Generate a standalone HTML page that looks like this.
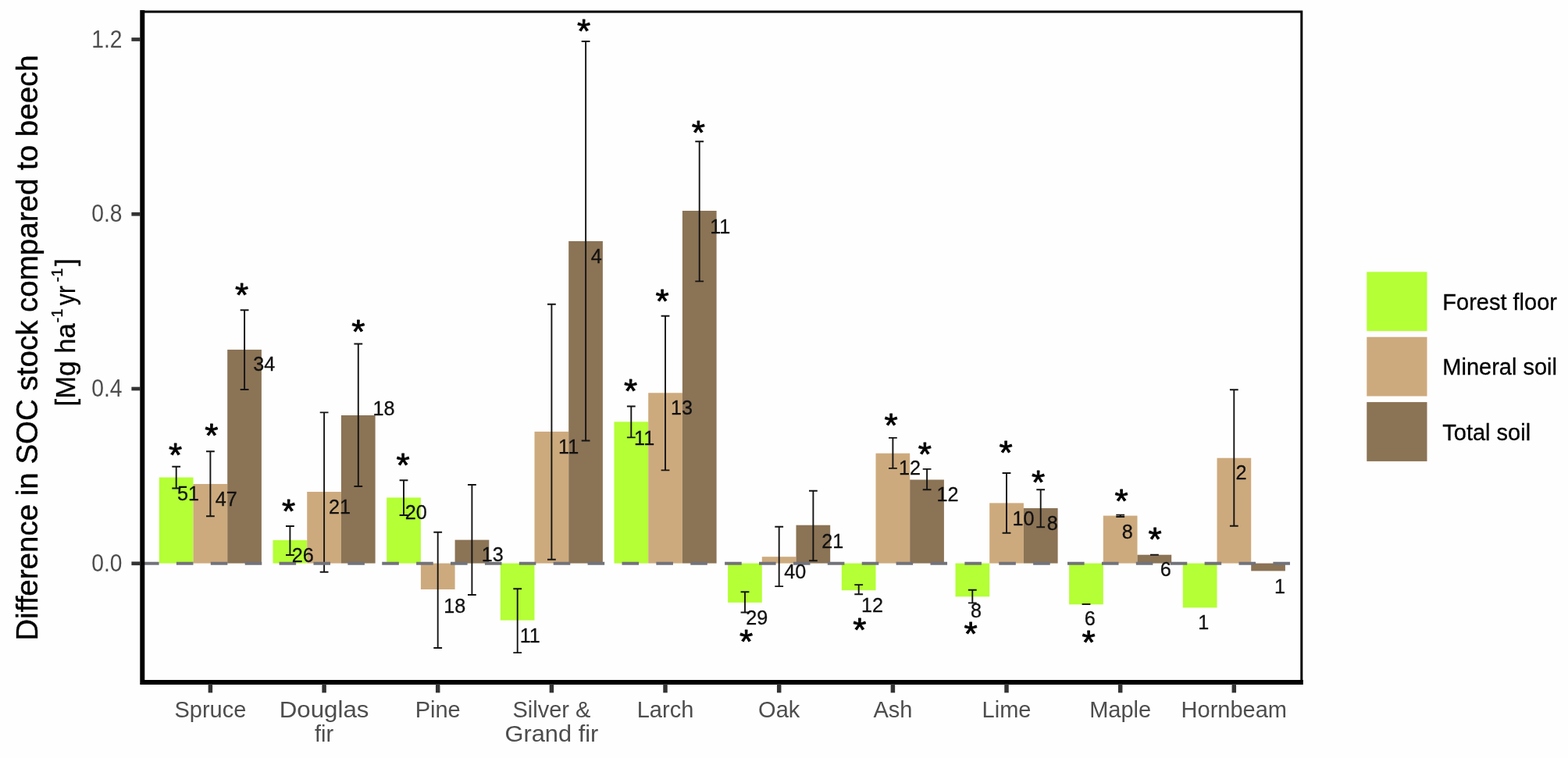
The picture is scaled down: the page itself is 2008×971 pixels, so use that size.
<!DOCTYPE html>
<html lang="en"><head><meta charset="utf-8"><title>Difference in SOC stock compared to beech</title>
<style>
html,body{margin:0;padding:0;background:#fff;}
body{width:2008px;height:971px;overflow:hidden;}
svg{display:block;font-family:"Liberation Sans",Arial,Helvetica,sans-serif;}
.bar{shape-rendering:auto;}
.eb{stroke:#141414;stroke-width:1.9;fill:none;}
.lab{font-size:25.6px;fill:#111;stroke:#111;stroke-width:0.3;}
.star{font-size:42.5px;fill:#000;stroke:#000;stroke-width:0.8;stroke-linejoin:round;text-anchor:middle;}
.xt{font-size:29px;fill:#4d4d4d;text-anchor:middle;}
.yt{font-size:30.6px;fill:#4d4d4d;text-anchor:end;}
.leg{font-size:29px;fill:#000;stroke:#000;stroke-width:0.3;}
.tick{stroke:#333;stroke-width:5.5;}
</style></head><body>
<svg width="2008" height="971" viewBox="0 0 2008 971">
<rect x="0" y="0" width="2008" height="971" fill="#fefefe"/>
<g class="bars">
<rect class="bar" x="203.8" y="611.5" width="43.7" height="110.1" fill="#B4FF35"/>
<rect class="bar" x="247.5" y="620.0" width="43.7" height="101.6" fill="#CDAA7D"/>
<rect class="bar" x="291.2" y="447.9" width="43.7" height="273.7" fill="#8B7355"/>
<rect class="bar" x="349.5" y="692.0" width="43.7" height="29.6" fill="#B4FF35"/>
<rect class="bar" x="393.2" y="630.0" width="43.7" height="91.6" fill="#CDAA7D"/>
<rect class="bar" x="436.9" y="532.0" width="43.7" height="189.6" fill="#8B7355"/>
<rect class="bar" x="495.2" y="637.4" width="43.7" height="84.2" fill="#B4FF35"/>
<rect class="bar" x="538.9" y="721.6" width="43.7" height="33.4" fill="#CDAA7D"/>
<rect class="bar" x="582.6" y="691.6" width="43.7" height="30.0" fill="#8B7355"/>
<rect class="bar" x="640.8" y="721.6" width="43.7" height="73.0" fill="#B4FF35"/>
<rect class="bar" x="684.5" y="552.9" width="43.7" height="168.7" fill="#CDAA7D"/>
<rect class="bar" x="728.2" y="308.9" width="43.7" height="412.7" fill="#8B7355"/>
<rect class="bar" x="786.5" y="540.3" width="43.7" height="181.3" fill="#B4FF35"/>
<rect class="bar" x="830.2" y="503.3" width="43.7" height="218.3" fill="#CDAA7D"/>
<rect class="bar" x="873.9" y="270.0" width="43.7" height="451.6" fill="#8B7355"/>
<rect class="bar" x="932.1" y="721.6" width="43.7" height="50.3" fill="#B4FF35"/>
<rect class="bar" x="975.8" y="713.2" width="43.7" height="8.4" fill="#CDAA7D"/>
<rect class="bar" x="1019.5" y="672.7" width="43.7" height="48.9" fill="#8B7355"/>
<rect class="bar" x="1077.8" y="721.6" width="43.7" height="34.6" fill="#B4FF35"/>
<rect class="bar" x="1121.5" y="580.7" width="43.7" height="140.9" fill="#CDAA7D"/>
<rect class="bar" x="1165.2" y="614.5" width="43.7" height="107.1" fill="#8B7355"/>
<rect class="bar" x="1223.5" y="721.6" width="43.7" height="42.7" fill="#B4FF35"/>
<rect class="bar" x="1267.2" y="644.4" width="43.7" height="77.2" fill="#CDAA7D"/>
<rect class="bar" x="1310.9" y="651.0" width="43.7" height="70.6" fill="#8B7355"/>
<rect class="bar" x="1369.1" y="721.6" width="43.7" height="52.7" fill="#B4FF35"/>
<rect class="bar" x="1412.8" y="660.6" width="43.7" height="61.0" fill="#CDAA7D"/>
<rect class="bar" x="1456.5" y="710.7" width="43.7" height="10.9" fill="#8B7355"/>
<rect class="bar" x="1514.8" y="721.6" width="43.7" height="56.8" fill="#B4FF35"/>
<rect class="bar" x="1558.5" y="586.7" width="43.7" height="134.9" fill="#CDAA7D"/>
<rect class="bar" x="1602.2" y="721.6" width="43.7" height="9.8" fill="#8B7355"/>
</g>
<g class="eb">
<path d="M220.3 597.8H231.1M225.7 597.8V625.5M220.3 625.5H231.1"/>
<path d="M264.0 578.3H274.8M269.4 578.3V661.3M264.0 661.3H274.8"/>
<path d="M307.7 397.3H318.5M313.1 397.3V499.0M307.7 499.0H318.5"/>
<path d="M366.0 674.0H376.8M371.4 674.0V711.0M366.0 711.0H376.8"/>
<path d="M409.7 528.4H420.5M415.1 528.4V732.7M409.7 732.7H420.5"/>
<path d="M453.4 440.5H464.2M458.8 440.5V623.0M453.4 623.0H464.2"/>
<path d="M511.6 615.2H522.4M517.0 615.2V660.0M511.6 660.0H522.4"/>
<path d="M555.3 681.8H566.1M560.7 681.8V830.0M555.3 830.0H566.1"/>
<path d="M599.0 621.0H609.8M604.4 621.0V762.0M599.0 762.0H609.8"/>
<path d="M657.3 754.2H668.1M662.7 754.2V836.1M657.3 836.1H668.1"/>
<path d="M701.0 389.7H711.8M706.4 389.7V716.7M701.0 716.7H711.8"/>
<path d="M744.7 53.0H755.5M750.1 53.0V564.5M744.7 564.5H755.5"/>
<path d="M802.9 520.5H813.7M808.3 520.5V560.4M802.9 560.4H813.7"/>
<path d="M846.6 404.8H857.4M852.0 404.8V602.4M846.6 602.4H857.4"/>
<path d="M890.3 181.2H901.1M895.7 181.2V360.4M890.3 360.4H901.1"/>
<path d="M948.6 758.2H959.4M954.0 758.2V784.5M948.6 784.5H959.4"/>
<path d="M992.3 674.7H1003.1M997.7 674.7V751.1M992.3 751.1H1003.1"/>
<path d="M1036.0 628.7H1046.8M1041.4 628.7V718.2M1036.0 718.2H1046.8"/>
<path d="M1094.3 749.1H1105.1M1099.7 749.1V761.2M1094.3 761.2H1105.1"/>
<path d="M1138.0 560.9H1148.8M1143.4 560.9V599.9M1138.0 599.9H1148.8"/>
<path d="M1181.7 600.9H1192.5M1187.1 600.9V627.2M1181.7 627.2H1192.5"/>
<path d="M1239.9 755.7H1250.7M1245.3 755.7V772.4M1239.9 772.4H1250.7"/>
<path d="M1283.6 606.0H1294.4M1289.0 606.0V682.8M1283.6 682.8H1294.4"/>
<path d="M1327.3 627.2H1338.1M1332.7 627.2V675.2M1327.3 675.2H1338.1"/>
<path d="M1385.6 774.0H1396.4"/>
<path d="M1429.3 659.6H1440.1M1434.7 659.6V662.0M1429.3 662.0H1440.1"/>
<path d="M1473.0 710.7H1483.8"/>
<path d="M1574.9 499.2H1585.7M1580.3 499.2V673.7M1574.9 673.7H1585.7"/>
</g>
<line x1="182.0" y1="721.7" x2="1667" y2="721.7" stroke="#72727a" stroke-width="4.0" stroke-dasharray="21.6 22.29"/>
<g class="lab">
<text transform="translate(227.1 640.5) scale(0.985 1)">51</text>
<text transform="translate(275.7 647.9) scale(0.985 1)">47</text>
<text transform="translate(324.3 474.9) scale(0.985 1)">34</text>
<text transform="translate(373.8 720.2) scale(0.985 1)">26</text>
<text transform="translate(421.1 657.8) scale(0.985 1)">21</text>
<text transform="translate(477.6 532.1) scale(0.985 1)">18</text>
<text transform="translate(518.7 665.4) scale(0.985 1)">20</text>
<text transform="translate(568.2 784.8) scale(0.985 1)">18</text>
<text transform="translate(616.7 719.4) scale(0.985 1)">13</text>
<text transform="translate(665.7 823.3) scale(0.985 1)">11</text>
<text transform="translate(715.0 580.8) scale(0.985 1)">11</text>
<text transform="translate(756.7 337.0) scale(0.985 1)">4</text>
<text transform="translate(812.1 569.8) scale(0.985 1)">11</text>
<text transform="translate(859.1 530.8) scale(0.985 1)">13</text>
<text transform="translate(909.2 298.6) scale(0.985 1)">11</text>
<text transform="translate(955.2 799.5) scale(0.985 1)">29</text>
<text transform="translate(1004.2 741.3) scale(0.985 1)">40</text>
<text transform="translate(1052.2 701.8) scale(0.985 1)">21</text>
<text transform="translate(1102.9 783.8) scale(0.985 1)">12</text>
<text transform="translate(1151.0 608.3) scale(0.985 1)">12</text>
<text transform="translate(1199.5 642.2) scale(0.985 1)">12</text>
<text transform="translate(1243.0 791.4) scale(0.985 1)">8</text>
<text transform="translate(1296.6 673.0) scale(0.985 1)">10</text>
<text transform="translate(1340.7 678.6) scale(0.985 1)">8</text>
<text transform="translate(1388.7 801.0) scale(0.985 1)">6</text>
<text transform="translate(1436.8 689.8) scale(0.985 1)">8</text>
<text transform="translate(1485.8 737.8) scale(0.985 1)">6</text>
<text transform="translate(1534.2 806.1) scale(0.985 1)">1</text>
<text transform="translate(1582.5 614.3) scale(0.985 1)">2</text>
<text transform="translate(1632.0 759.5) scale(0.985 1)">1</text>
</g>
<g class="star">
<text transform="translate(224.6 596.7) scale(1.04 1)">*</text>
<text transform="translate(270.8 572.2) scale(1.04 1)">*</text>
<text transform="translate(309.7 392.1) scale(1.04 1)">*</text>
<text transform="translate(369.6 668.8) scale(1.04 1)">*</text>
<text transform="translate(458.9 438.8) scale(1.04 1)">*</text>
<text transform="translate(516.2 609.6) scale(1.04 1)">*</text>
<text transform="translate(747.6 54.1) scale(1.04 1)">*</text>
<text transform="translate(807.6 515.1) scale(1.04 1)">*</text>
<text transform="translate(848.2 399.5) scale(1.04 1)">*</text>
<text transform="translate(894.3 184.4) scale(1.04 1)">*</text>
<text transform="translate(955.6 836.3) scale(1.04 1)">*</text>
<text transform="translate(1100.8 821.1) scale(1.04 1)">*</text>
<text transform="translate(1141.1 558.7) scale(1.04 1)">*</text>
<text transform="translate(1184.3 595.6) scale(1.04 1)">*</text>
<text transform="translate(1243.0 825.6) scale(1.04 1)">*</text>
<text transform="translate(1288.0 594.4) scale(1.04 1)">*</text>
<text transform="translate(1329.6 631.5) scale(1.04 1)">*</text>
<text transform="translate(1394.1 836.7) scale(1.04 1)">*</text>
<text transform="translate(1436.0 656.0) scale(1.04 1)">*</text>
<text transform="translate(1479.1 705.2) scale(1.04 1)">*</text>
</g>
<path d="M182.3 15.1H1666.8V874" fill="none" stroke="#000" stroke-width="3.0"/>
<path d="M182.3 13.1V874.1H1668.8" fill="none" stroke="#000" stroke-width="6"/>
<line class="tick" x1="168.4" y1="721.8" x2="180" y2="721.8" style="stroke-width:4.7"/>
<text class="yt" transform="translate(156.5 731.8) scale(0.922 1)">0.0</text>
<line class="tick" x1="168.4" y1="498.0" x2="180" y2="498.0" style="stroke-width:4.7"/>
<text class="yt" transform="translate(156.5 508.0) scale(0.922 1)">0.4</text>
<line class="tick" x1="168.4" y1="274.3" x2="180" y2="274.3" style="stroke-width:4.7"/>
<text class="yt" transform="translate(156.5 284.3) scale(0.922 1)">0.8</text>
<line class="tick" x1="168.4" y1="50.5" x2="180" y2="50.5" style="stroke-width:4.7"/>
<text class="yt" transform="translate(156.5 60.5) scale(0.922 1)">1.2</text>
<line class="tick" x1="269.4" y1="876" x2="269.4" y2="887.4"/>
<text class="xt" transform="translate(269.4 919.0) scale(1.000 1)">Spruce</text>
<line class="tick" x1="415.1" y1="876" x2="415.1" y2="887.4"/>
<text class="xt" transform="translate(415.1 919.0) scale(1.078 1)">Douglas</text>
<text class="xt" transform="translate(415.1 950.0) scale(1.000 1)">fir</text>
<line class="tick" x1="560.7" y1="876" x2="560.7" y2="887.4"/>
<text class="xt" transform="translate(560.7 919.0) scale(1.000 1)">Pine</text>
<line class="tick" x1="706.4" y1="876" x2="706.4" y2="887.4"/>
<text class="xt" transform="translate(706.4 919.0) scale(1.000 1)">Silver &amp;</text>
<text class="xt" transform="translate(706.4 950.0) scale(1.062 1)">Grand fir</text>
<line class="tick" x1="852.0" y1="876" x2="852.0" y2="887.4"/>
<text class="xt" transform="translate(852.0 919.0) scale(1.000 1)">Larch</text>
<line class="tick" x1="997.7" y1="876" x2="997.7" y2="887.4"/>
<text class="xt" transform="translate(997.7 919.0) scale(1.000 1)">Oak</text>
<line class="tick" x1="1143.4" y1="876" x2="1143.4" y2="887.4"/>
<text class="xt" transform="translate(1143.4 919.0) scale(1.000 1)">Ash</text>
<line class="tick" x1="1289.0" y1="876" x2="1289.0" y2="887.4"/>
<text class="xt" transform="translate(1289.0 919.0) scale(1.000 1)">Lime</text>
<line class="tick" x1="1434.7" y1="876" x2="1434.7" y2="887.4"/>
<text class="xt" transform="translate(1434.7 919.0) scale(1.000 1)">Maple</text>
<line class="tick" x1="1580.3" y1="876" x2="1580.3" y2="887.4"/>
<text class="xt" transform="translate(1580.3 919.0) scale(1.000 1)">Hornbeam</text>
<text transform="translate(47.5 445.5) rotate(-90)" text-anchor="middle" font-size="38.5" fill="#000" stroke="#000" stroke-width="0.4">Difference in SOC stock compared to beech</text>
<g transform="translate(95.9 520.5) rotate(-90) scale(0.972 1)" font-size="35.8" fill="#000" stroke="#000" stroke-width="0.35">
<text x="0" y="0">[Mg ha</text>
<text x="110.1" y="-16.2" font-size="21">-1</text>
<text transform="translate(133.2 0) scale(0.86 1)" x="0" y="0">yr</text>
<text x="163.6" y="-16.2" font-size="21">-1</text>
<text x="184.9" y="0">]</text>
</g>
<rect x="1750.3" y="348.3" width="77.2" height="75.8" fill="#B4FF35"/>
<text class="leg" x="1847.3" y="396.8">Forest floor</text>
<rect x="1750.3" y="431.7" width="77.2" height="75.8" fill="#CDAA7D"/>
<text class="leg" x="1847.3" y="480.2">Mineral soil</text>
<rect x="1750.3" y="515.1" width="77.2" height="75.8" fill="#8B7355"/>
<text class="leg" x="1847.3" y="563.6">Total soil</text>
</svg>
</body></html>
